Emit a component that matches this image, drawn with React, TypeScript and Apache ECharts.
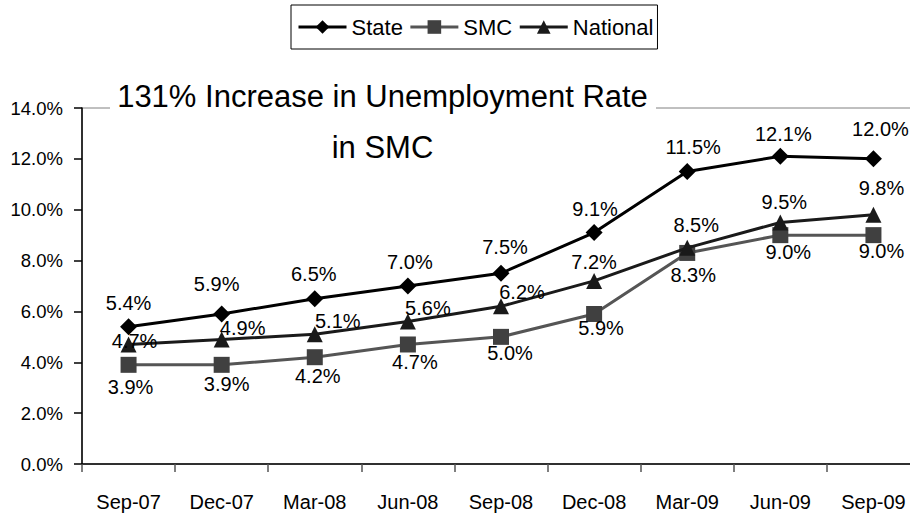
import React, { useEffect, useRef } from "react";
import * as echarts from "echarts";

const categories = ["Sep-07", "Dec-07", "Mar-08", "Jun-08", "Sep-08", "Dec-08", "Mar-09", "Jun-09", "Sep-09"];
const stateValues = [5.4, 5.9, 6.5, 7.0, 7.5, 9.1, 11.5, 12.1, 12.0];
const smcValues = [3.9, 3.9, 4.2, 4.7, 5.0, 5.9, 8.3, 9.0, 9.0];
const nationalValues = [4.7, 4.9, 5.1, 5.6, 6.2, 7.2, 8.5, 9.5, 9.8];
const titleLines = ["131% Increase in Unemployment Rate", "in SMC"];

// label placement (style), relative to each point's centre
const stateLabelOffsets = [[0, -24], [-5, -30], [-1, -25], [2, -24], [4, -26], [1, -24], [6, -25], [3, -22], [7, -30]];
const smcLabelOffsets = [[2, 22], [5, 19], [3, 19], [7, 18], [9, 16], [7, 14], [6, 22], [8, 17], [8, 16]];
const nationalLabelOffsets = [[6, -3], [21, -11], [23, -13], [20, -14], [21, -14], [0, -19], [9, -23], [4, -20], [8, -27]];

const REG = "'Liberation Sans', Arial, sans-serif";

const fmt = (v: number) => `${v.toFixed(1)}%`;

function buildData(values: number[], offsets: number[][]) {
  return values.map((v, i) => ({ value: v, label: { offset: offsets[i] } }));
}

export default function App() {
  const ref = useRef<HTMLDivElement>(null);
  useEffect(() => {
    if (!ref.current) return;
    const chart = echarts.init(ref.current, undefined, { renderer: "svg" });
    const labelBase = {
      show: true,
      position: "inside",
      color: "#000",
      fontFamily: REG,
      fontSize: 20,
      formatter: (p: any) => fmt(p.value),
    };
    const option = {
      animation: false,
      backgroundColor: "#fff",
      legend: {
        left: 291,
        top: 5,
        orient: "horizontal",
        padding: [11, 4, 11, 6],
        borderColor: "#000",
        borderWidth: 1,
        itemWidth: 48,
        itemHeight: 17,
        itemGap: 6,
        lineStyle: { width: 3 },
        textStyle: { fontFamily: REG, fontSize: 22, color: "#000" },
        data: ["State", "SMC", "National"],
      },
      grid: {
        left: 82,
        top: 108,
        right: -10,
        bottom: 54,
        outerBoundsMode: "none",
        containLabel: false,
        show: true,
        borderColor: "#808080",
        borderWidth: 1,
        backgroundColor: "transparent",
      },
      xAxis: {
        type: "category",
        data: categories,
        boundaryGap: true,
        axisLine: { lineStyle: { color: "#000", width: 1.5 } },
        axisTick: { show: true, length: 8, inside: false, interval: 0, lineStyle: { color: "#555", width: 1.5 } },
        axisLabel: { color: "#000", fontFamily: REG, fontSize: 20, margin: 28, interval: 0 },
        splitLine: { show: false },
      },
      yAxis: {
        type: "value",
        min: 0,
        max: 14,
        interval: 2,
        axisLine: { show: true, lineStyle: { color: "#000", width: 1.5 } },
        axisTick: { show: true, length: 8, lineStyle: { color: "#000", width: 1.5 } },
        axisLabel: { color: "#000", fontFamily: REG, fontSize: 18.5, margin: 19, formatter: (v: number) => fmt(v) },
        splitLine: { show: false },
      },
      graphic: [
        { type: "rect", z: 100, shape: { x: 110, y: 103, width: 546, height: 10 }, style: { fill: "#fff" } },
        {
          type: "text",
          z: 101,
          x: 382.5,
          y: 96,
          style: { text: titleLines[0], fontFamily: REG, fontSize: 31, fill: "#000", align: "center", verticalAlign: "middle" },
        },
        {
          type: "text",
          z: 101,
          x: 382.5,
          y: 147,
          style: { text: titleLines[1], fontFamily: REG, fontSize: 31, fill: "#000", align: "center", verticalAlign: "middle" },
        },
      ],
      series: [
        {
          name: "State",
          type: "line",
          data: buildData(stateValues, stateLabelOffsets),
          symbol: "diamond",
          symbolSize: 17,
          lineStyle: { color: "#000", width: 3 },
          itemStyle: { color: "#000" },
          label: labelBase,
          z: 4,
        },
        {
          name: "SMC",
          type: "line",
          data: buildData(smcValues, smcLabelOffsets),
          symbol: "rect",
          symbolSize: 16,
          lineStyle: { color: "#555", width: 3 },
          itemStyle: { color: "#404040" },
          label: labelBase,
          z: 2,
        },
        {
          name: "National",
          type: "line",
          data: buildData(nationalValues, nationalLabelOffsets),
          symbol: "triangle",
          symbolSize: 16,
          lineStyle: { color: "#1a1a1a", width: 3 },
          itemStyle: { color: "#1a1a1a" },
          label: labelBase,
          z: 3,
        },
      ],
    };
    chart.setOption(option as any);
    return () => chart.dispose();
  }, []);
  return <div ref={ref} style={{ position: "fixed", left: 0, top: 0, width: 910, height: 518 }} />;
}
